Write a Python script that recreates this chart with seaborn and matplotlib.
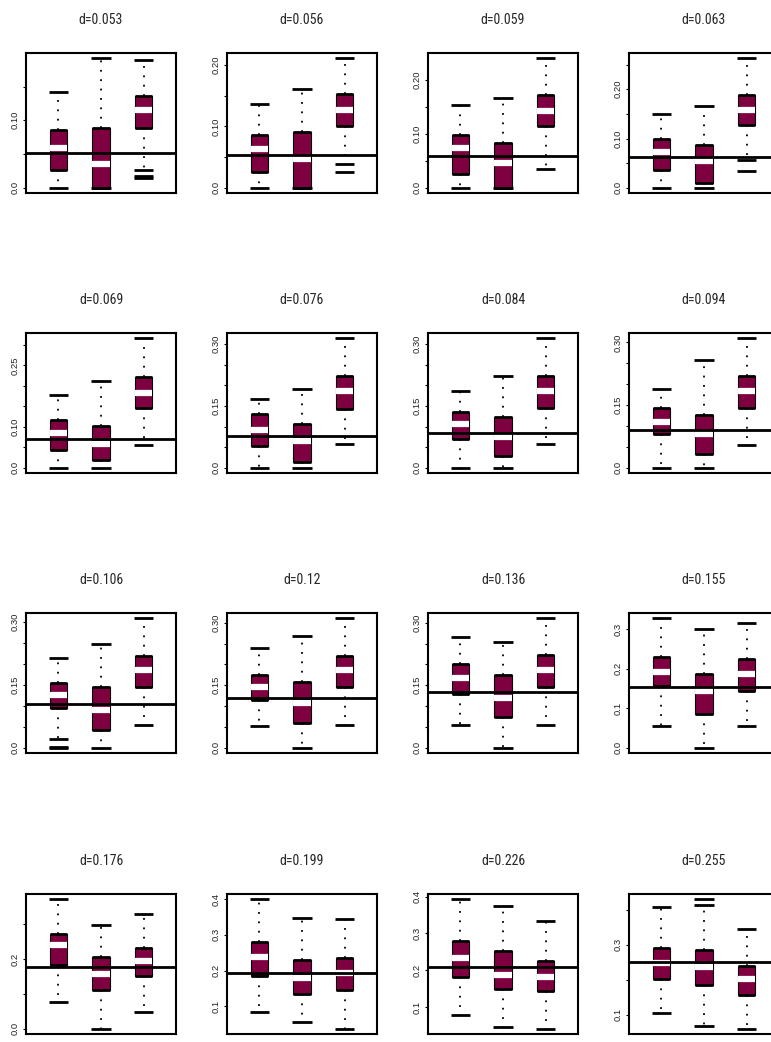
import numpy as np
import pandas as pd
import matplotlib
matplotlib.use('Agg')
import matplotlib.pyplot as plt
import seaborn as sns

sns.set_style('white')
plt.rcParams['font.family'] = ['Liberation Sans', 'DejaVu Sans']

# 16 panels, 3 boxes each (five-number summaries)
titles = ['d=0.053', 'd=0.056', 'd=0.059', 'd=0.063',
          'd=0.069', 'd=0.076', 'd=0.084', 'd=0.094',
          'd=0.106', 'd=0.12', 'd=0.136', 'd=0.155',
          'd=0.176', 'd=0.199', 'd=0.226', 'd=0.255']

ref_line = [0.052, 0.054, 0.058, 0.063, 0.070, 0.076, 0.084, 0.091,
            0.104, 0.119, 0.134, 0.155, 0.177, 0.194, 0.209, 0.252]

whisk_lo = [[0.0, 0.0, 0.027], [0.0, 0.0, 0.039], [0.0, 0.0, 0.035], [0.0, 0.0, 0.057],
            [0.0, 0.0, 0.056], [0.0, 0.0, 0.057], [0.0, 0.0, 0.057], [0.0, 0.0, 0.054],
            [0.022, 0.0, 0.054], [0.052, 0.0, 0.055], [0.054, 0.0, 0.055], [0.054, 0.0, 0.055],
            [0.078, 0.0, 0.048], [0.084, 0.057, 0.037], [0.079, 0.045, 0.041], [0.105, 0.067, 0.060]]
q1 = [[0.026, 0.0, 0.089], [0.025, 0.0, 0.100], [0.026, 0.0, 0.114], [0.037, 0.0095, 0.127],
      [0.0435, 0.019, 0.147], [0.054, 0.0136, 0.143], [0.070, 0.028, 0.146], [0.081, 0.034, 0.142],
      [0.094, 0.042, 0.144], [0.114, 0.060, 0.146], [0.128, 0.074, 0.146], [0.156, 0.086, 0.145],
      [0.184, 0.110, 0.150], [0.185, 0.134, 0.146], [0.181, 0.149, 0.143], [0.202, 0.186, 0.157]]
med = [[0.059, 0.035, 0.115], [0.063, 0.047, 0.126], [0.074, 0.046, 0.142], [0.073, 0.054, 0.158],
       [0.086, 0.058, 0.183], [0.092, 0.066, 0.187], [0.106, 0.074, 0.187], [0.109, 0.080, 0.184],
       [0.126, 0.090, 0.185], [0.146, 0.108, 0.186], [0.168, 0.120, 0.186], [0.193, 0.144, 0.187],
       [0.240, 0.156, 0.193], [0.239, 0.180, 0.192], [0.232, 0.188, 0.182], [0.247, 0.237, 0.203]]
q3 = [[0.085, 0.089, 0.136], [0.086, 0.091, 0.152], [0.0975, 0.083, 0.171], [0.099, 0.086, 0.188],
      [0.117, 0.102, 0.222], [0.130, 0.106, 0.223], [0.136, 0.123, 0.223], [0.144, 0.127, 0.219],
      [0.154, 0.144, 0.219], [0.174, 0.159, 0.220], [0.202, 0.174, 0.222], [0.231, 0.187, 0.225],
      [0.270, 0.205, 0.232], [0.279, 0.230, 0.236], [0.279, 0.252, 0.225], [0.290, 0.286, 0.240]]
whisk_hi = [[0.142, 0.192, 0.190], [0.137, 0.161, 0.211], [0.153, 0.166, 0.240], [0.150, 0.165, 0.263],
            [0.177, 0.212, 0.316], [0.167, 0.190, 0.314], [0.186, 0.223, 0.314], [0.188, 0.259, 0.310],
            [0.213, 0.247, 0.309], [0.239, 0.268, 0.311], [0.266, 0.255, 0.311], [0.328, 0.300, 0.315],
            [0.371, 0.298, 0.330], [0.400, 0.346, 0.344], [0.393, 0.375, 0.334], [0.407, 0.414, 0.346]]

# outliers: (panel, box, value)
out_panel = [0, 0, 1, 3, 8, 8, 15]
out_box = [2, 2, 2, 2, 0, 0, 1]
out_val = [0.015, 0.017, 0.025, 0.034, 0.0, 0.003, 0.430]

yticks = [[0, 0.05, 0.10, 0.15], [0, 0.05, 0.10, 0.15, 0.20], [0, 0.05, 0.10, 0.15, 0.20],
          [0, 0.05, 0.10, 0.15, 0.20, 0.25]] + \
         [[0, 0.05, 0.10, 0.15, 0.20, 0.25, 0.30]] * 7 + \
         [[0, 0.1, 0.2, 0.3], [0, 0.1, 0.2, 0.3]] + [[0.1, 0.2, 0.3, 0.4]] * 3
ylabels = [['0.0', '', '0.10', ''], ['0.0', '', '0.10', '', '0.20'], ['0.0', '', '0.10', '', '0.20'],
           ['0.0', '', '0.10', '', '0.20', ''],
           ['0.0', '', '0.10', '', '', '0.25', '']] + \
          [['0.0', '', '', '0.15', '', '', '0.30']] * 6 + \
          [['0.0', '0.1', '0.2', '0.3'], ['0.0', '', '0.2', ''],
           ['0.1', '0.2', '0.3', '0.4'], ['0.1', '0.2', '0.3', '0.4'], ['0.1', '', '0.3', '']]

BOX = '#7F0040'
W, H = 771, 1042
col_left = [26, 227, 428, 629]
row_top = [53, 333, 613, 894]
pw, ph = 150, 140
bw = 0.4

fig = plt.figure(figsize=(W / 100, H / 100), dpi=100)

for i in range(16):
    r, c = divmod(i, 4)
    ax = fig.add_axes([col_left[c] / W, 1 - (row_top[r] + ph) / H, pw / W, ph / H])

    rows = []
    for b in range(3):
        for v in (whisk_lo[i][b], q1[i][b], med[i][b], q3[i][b], whisk_hi[i][b]):
            rows.append({'grp': b, 'val': v})
    df = pd.DataFrame(rows)

    sns.boxplot(data=df, x='grp', y='val', order=[0, 1, 2], ax=ax, whis=np.inf,
                width=bw, color=BOX, saturation=1, linecolor='black', linewidth=0.8,
                showcaps=False, showfliers=False,
                medianprops=dict(color='white', linewidth=4.5),
                whiskerprops=dict(linestyle=(0, (1, 4.2)), linewidth=1.3))

    xs = np.arange(3)
    # thick box ends, caps
    ax.hlines(q1[i], xs - bw / 2, xs + bw / 2, color='black', lw=2, zorder=4)
    ax.hlines(q3[i], xs - bw / 2, xs + bw / 2, color='black', lw=2, zorder=4)
    ax.hlines(whisk_lo[i], xs - 0.23, xs + 0.23, color='black', lw=2, zorder=4)
    ax.hlines(whisk_hi[i], xs - 0.23, xs + 0.23, color='black', lw=2, zorder=4)

    ov = [v for p, v in zip(out_panel, out_val) if p == i]
    ob = [b for p, b in zip(out_panel, out_box) if p == i]
    if ov:
        ob = np.array(ob)
        ax.hlines(ov, ob - 0.23, ob + 0.23, color='black', lw=2, zorder=4)

    ax.axhline(ref_line[i], color='black', lw=2, zorder=5)

    lo = min(whisk_lo[i] + ov)
    hi = max(whisk_hi[i] + ov)
    pad = 0.04 * (hi - lo)
    ax.set_ylim(lo - pad, hi + pad)
    ax.set_xlim(-0.76, 2.76)

    ax.set_xticks([])
    ax.set_xlabel('')
    ax.set_ylabel('')
    ax.set_yticks(yticks[i])
    ax.set_yticklabels(ylabels[i])
    ax.tick_params(axis='y', left=True, length=2.5, width=0.8, direction='out',
                   labelsize=6.8, pad=2, labelrotation=90, colors='black', labelcolor='#222222')
    for t in ax.get_yticklabels():
        t.set_va('center')

    for s in ax.spines.values():
        s.set_visible(True)
        s.set_color('black')
        s.set_linewidth(1.5)

    ax.set_title(titles[i], fontsize=10, pad=21, fontstretch='condensed',
                 family=['Roboto Condensed', 'DejaVu Sans'])

fig.savefig('out.png', dpi=100)
